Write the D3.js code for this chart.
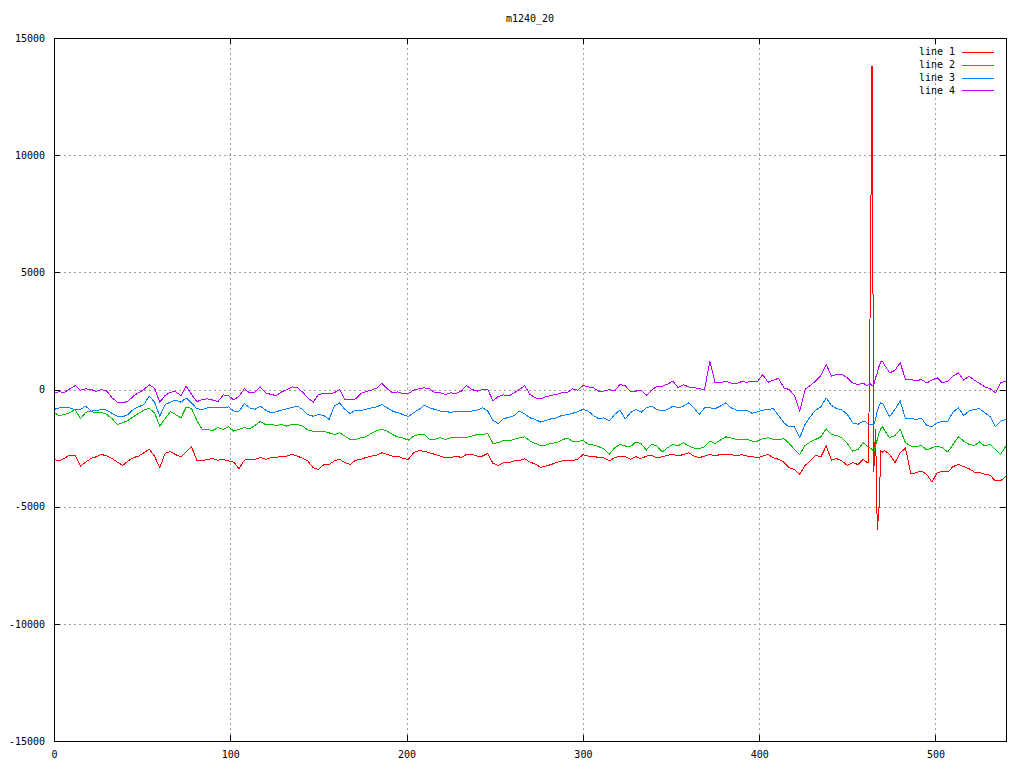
<!DOCTYPE html>
<html><head><meta charset="utf-8">
<script src="https://cdn.jsdelivr.net/npm/d3@7"></script>
<style>
body{margin:0;background:#fff}
svg{display:block}
text{font-family:"DejaVu Sans Mono",monospace;font-size:10px;fill:#000}
</style>
</head><body><svg id="c" width="1024" height="768"></svg>
<script>
const title = "m1240_20";
const seriesNames = ["line 1", "line 2", "line 3", "line 4"];
const seriesColors = ["#ff0000", "#00c000", "#0080ff", "#c000ff"];
const xTicks = [0, 100, 200, 300, 400, 500];
const yTicks = [-15000, -10000, -5000, 0, 5000, 10000, 15000];

const xs = [0,3,6,9,12,15,18,21,24,27,30,33,36,39,42,45,48,51,54,57,60,63,66,69,72,75,78,81,84,87,90,93,96,99,102,105,108,111,114,117,120,123,126,129,132,135,138,141,144,147,150,153,156,159,162,165,168,171,174,177,180,183,186,189,192,195,198,201,204,207,210,213,216,219,222,225,228,231,234,237,240,243,246,249,252,255,258,261,264,267,270,273,276,279,282,285,288,291,294,297,300,303,306,309,312,315,318,321,324,327,330,333,336,339,342,345,348,351,354,357,360,363,366,369,372,375,378,381,384,387,390,393,396,399,402,405,408,411,414,417,420,423,426,429,432,435,438,441,444,447,450,453,456,459,460,461,462,463,464,465,466,467,468,469,470,471,474,477,480,483,486,489,492,495,498,501,504,507,510,513,516,519,522,525,528,531,534,537,540];

const line1 = [-2980,-3050,-2930,-2800,-2800,-3270,-3100,-2940,-2870,-2770,-2840,-2950,-3100,-3240,-3050,-2910,-2840,-2700,-2540,-2840,-3340,-2730,-2650,-2780,-2870,-2670,-2440,-3020,-3050,-2980,-2950,-3020,-2980,-3050,-3100,-3380,-3010,
-2980,-2980,-2900,-2980,-2910,-2900,-2840,-2840,-2770,-2840,-2940,-3050,-3340,-3410,-3210,-3200,-3050,-2980,-3120,-3200,-3020,-2980,-2900,-2840,-2810,-2700,-2770,-2840,-2840,-2950,-2980,-2700,-2600,-2640,-2700,-2770,-2840,-2910,-2910,-2840,-2900,-2770,-2770,-2840,-2840,-2730,
-3150,-3240,-3120,-3120,-3050,-3030,-2950,-3100,-3180,-3320,-3270,-3200,-3120,-3050,-3050,-3050,-2980,-2780,-2840,-2840,-2910,-2920,-3050,-2910,-2840,-2870,-2980,-2870,-2950,-2840,-2810,-2910,-2870,-2810,-2770,-2840,-2770,-2700,-2840,-2910,-2840,-2770,-2840,-2770,-2770,
-2770,-2840,-2780,-2840,-2870,-2910,-2840,-2770,-2910,-2980,-3100,-3340,-3410,-3620,-3240,-3050,-2810,-2870,-2410,-3010,-2950,-3050,-3240,-3120,-3200,-2980,
-3050,-3100,-3100,4000,13800,-3500,-1700,-6000,-5000,-2630,-2670,
-2600,-2770,-3120,-2700,-2500,-3600,-3550,-3480,-3620,-3950,-3550,-3490,-3520,-3290,-3200,-3290,-3380,-3520,-3550,-3620,-3660,-3900,-3900,-3690];

const line2 = [-990,-1110,-1070,-990,-850,-1250,-970,-940,-990,-970,-1070,-1250,-1490,-1420,-1320,-1160,-1020,-880,-800,-990,-1560,-1250,-940,-1070,-1210,-750,-800,-1320,-1700,-1700,-1750,-1630,-1700,-1590,-1780,-1700,-1630,
-1680,-1530,-1360,-1500,-1500,-1530,-1500,-1560,-1490,-1490,-1560,-1730,-1780,-1780,-1780,-1850,-1920,-1850,-1990,-2130,-2130,-2060,-2020,-1870,-1760,-1700,-1780,-1920,-2030,-2070,-2160,-1990,-1920,-1920,-2130,-2130,-2060,-2130,-2060,-2060,-2070,-2040,-1990,-1920,-1920,-1870,
-2300,-2270,-2160,-2200,-2130,-2060,-2020,-2200,-2300,-2390,-2370,-2300,-2270,-2160,-2070,-2200,-2240,-2160,-2340,-2370,-2440,-2530,-2770,-2490,-2340,-2410,-2440,-2240,-2310,-2580,-2340,-2410,-2670,-2490,-2340,-2410,-2270,-2410,-2500,-2530,-2440,-2210,-2300,-2160,-2020,
-2070,-2130,-2130,-2130,-2200,-2200,-2100,-2060,-2130,-2130,-2100,-2300,-2560,-2770,-2390,-2240,-2130,-2020,-1680,-1920,-1960,-2060,-2300,-2630,-2560,-2270,
-2330,-2410,-2470,-2500,-2560,-2630,-2410,-2130,-1850,-1680,-1590,
-1730,-2060,-1960,-1700,-2270,-2410,-2440,-2390,-2580,-2490,-2410,-2490,-2670,-2340,-2020,-2200,-2340,-2390,-2240,-2410,-2340,-2560,-2770,-2410];

const line3 = [-850,-790,-780,-780,-880,-850,-710,-920,-910,-850,-880,-1020,-1140,-1160,-1070,-850,-740,-640,-280,-540,-1140,-640,-540,-450,-540,-360,-570,-820,-850,-790,-750,-780,-780,-740,-920,-920,-600,
-780,-850,-710,-880,-990,-950,-880,-820,-770,-710,-850,-1070,-1140,-1070,-1110,-1280,-710,-570,-850,-1020,-880,-890,-850,-780,-740,-640,-780,-920,-990,-1070,-1160,-990,-850,-670,-780,-850,-920,-920,-990,-920,-920,-940,-920,-880,-780,-920,
-1320,-1450,-1250,-1190,-1110,-920,-1040,-1210,-1280,-1390,-1320,-1250,-1210,-1110,-1070,-1020,-950,-850,-920,-1110,-1250,-1210,-1340,-1070,-880,-1250,-990,-850,-970,-780,-710,-850,-920,-850,-710,-780,-710,-570,-780,-1070,-780,-780,-820,-710,-570,
-780,-880,-910,-880,-1020,-950,-880,-850,-820,-1110,-1420,-1600,-1590,-2060,-1490,-1160,-880,-740,-360,-680,-820,-880,-1060,-1420,-1490,-1350,
-1360,-1420,-1490,-1490,-1490,-1490,-1280,-920,-710,-570,-600,
-740,-1160,-850,-500,-1250,-1220,-1280,-1220,-1530,-1590,-1420,-1350,-1350,-960,-780,-1110,-920,-850,-820,-990,-1160,-1590,-1350,-1280];

const line4 = [-140,-100,-120,30,170,-30,30,0,-80,0,-70,-360,-540,-570,-500,-280,-140,0,200,60,-540,-260,-110,-100,-260,140,-210,-520,-430,-400,-450,-520,-230,-260,-450,-280,30,
-140,-110,110,-140,-210,-260,-110,0,110,80,-110,-360,-540,-210,-170,-180,-140,0,-430,-450,-400,-180,-80,-30,60,260,30,-140,-100,-180,-170,-30,30,70,30,-140,-140,-210,-140,-170,-70,170,0,-70,0,0,
-480,-300,-230,-280,-140,0,170,-210,-360,-400,-310,-250,-210,-140,-140,30,-30,170,110,70,-70,-70,0,-60,210,170,-100,-70,-30,-250,-30,140,140,230,360,80,210,110,80,30,0,1200,280,280,360,
280,240,340,310,360,330,640,310,400,480,70,0,-260,-920,0,170,360,600,1070,570,640,640,500,280,210,280,
210,170,210,250,170,210,500,710,990,1200,1200,
1060,710,820,1140,430,430,360,430,280,400,500,280,360,570,710,400,570,400,260,110,30,-140,280,360];

const series = [line1, line2, line3, line4];

const svg = d3.select("#c");
const m = {l: 54, r: 1006, t: 38, b: 741};
const x = d3.scaleLinear().domain([0, 540]).range([m.l, m.r]);
const y = d3.scaleLinear().domain([-15000, 15000]).range([m.b, m.t]);
const plain = d => String(d);

// grid
const grid = svg.append("g").attr("stroke", "#a0a0a0").attr("stroke-dasharray", "2,3")
  .attr("shape-rendering", "crispEdges");
grid.selectAll("line.gx").data(xTicks.filter(v => v > 0)).join("line")
  .attr("x1", d => Math.round(x(d)) + 0.5).attr("x2", d => Math.round(x(d)) + 0.5)
  .attr("y1", m.t).attr("y2", m.b);
grid.selectAll("line.gy").data(yTicks.filter(v => v > -15000 && v < 15000)).join("line")
  .attr("y1", d => Math.round(y(d)) + 0.5).attr("y2", d => Math.round(y(d)) + 0.5)
  .attr("x1", m.l).attr("x2", m.r);

// axes
function styleAxis(g) {
  g.select(".domain").remove();
  g.attr("font-family", "DejaVu Sans Mono, monospace").attr("font-size", 10);
  g.selectAll(".tick line").attr("shape-rendering", "crispEdges");
}
svg.append("g").attr("transform", `translate(${m.l},0)`)
  .call(d3.axisLeft(y).tickValues(yTicks).tickFormat(plain).tickSizeInner(-6).tickSizeOuter(0).tickPadding(9))
  .call(styleAxis);
svg.append("g").attr("transform", `translate(${m.r},0)`)
  .call(d3.axisRight(y).tickValues(yTicks).tickSizeInner(-6).tickSizeOuter(0).tickFormat(""))
  .call(styleAxis);
svg.append("g").attr("transform", `translate(0,${m.b})`)
  .call(d3.axisBottom(x).tickValues(xTicks).tickFormat(plain).tickSizeInner(-6).tickSizeOuter(0).tickPadding(10))
  .call(styleAxis);
svg.append("g").attr("transform", `translate(0,${m.t})`)
  .call(d3.axisTop(x).tickValues(xTicks).tickSizeInner(-6).tickSizeOuter(0).tickFormat(""))
  .call(styleAxis);

// data lines
const lineGen = d3.line().x((d, i) => x(xs[i])).y(d => y(d));
series.forEach((s, k) => {
  svg.append("path").datum(s.slice(0, xs.length))
    .attr("fill", "none").attr("stroke", seriesColors[k]).attr("stroke-width", 1)
    .attr("shape-rendering", "crispEdges")
    .attr("d", lineGen);
});

// border
svg.append("rect").attr("x", m.l + 0.5).attr("y", m.t + 0.5)
  .attr("width", m.r - m.l).attr("height", m.b - m.t)
  .attr("fill", "none").attr("stroke", "#000").attr("shape-rendering", "crispEdges");

// title
svg.append("text").attr("x", (m.l + m.r) / 2).attr("y", 22).attr("text-anchor", "middle").text(title);

// legend
const lg = svg.append("g");
seriesNames.forEach((n, k) => {
  const ry = 52 + k * 12.8;
  lg.append("text").attr("x", 955).attr("y", ry).attr("dy", "0.32em").attr("text-anchor", "end").text(n);
  lg.append("line").attr("x1", 962).attr("x2", 994).attr("y1", Math.round(ry) + 0.5).attr("y2", Math.round(ry) + 0.5)
    .attr("stroke", seriesColors[k]).attr("shape-rendering", "crispEdges");
});
</script>
</body></html>
